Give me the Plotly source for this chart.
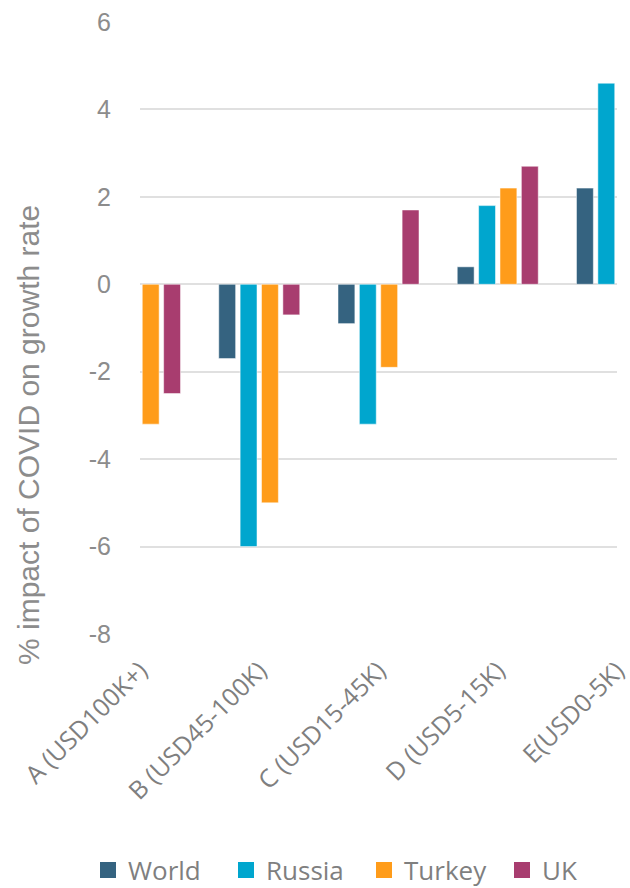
import plotly.graph_objects as go

categories = ["A (USD100K+)", "B (USD45-100K)", "C (USD15-45K)", "D (USD5-15K)", "E(USD0-5K)"]
world = [None, -1.7, -0.9, 0.4, 2.2]
russia = [None, -6.0, -3.2, 1.8, 4.6]
turkey = [-3.2, -5.0, -1.9, 2.2, None]
uk = [-2.5, -0.7, 1.7, 2.7, None]

y_ticks = [-8, -6, -4, -2, 0, 2, 4, 6]
y_tick_text = ["-8", "-6", "-4", "-2", "0", "2", "4", "6"]

series = [
    ("World", world, "#356380"),
    ("Russia", russia, "#00A6CE"),
    ("Turkey", turkey, "#FF9C1A"),
    ("UK", uk, "#A83D6F"),
]

fig = go.Figure()
for name, vals, color in series:
    fig.add_trace(go.Bar(
        x=list(range(len(categories))), y=vals, name=name, showlegend=False,
        legendgroup=name,
        marker=dict(color=color, line=dict(color="rgba(255,255,255,0.5)", width=1)),
    ))
# square legend keys
for name, vals, color in series:
    fig.add_trace(go.Scatter(
        x=[None], y=[None], mode="markers", name=name, legendgroup=name,
        marker=dict(symbol="square", size=18, color=color),
    ))

plot_w = 630 - 140 - 13

fig.update_layout(
    width=630, height=888,
    margin=dict(l=140, r=13, t=22, b=254, autoexpand=False),
    paper_bgcolor="white", plot_bgcolor="white",
    barmode="group", bargap=0.283, bargroupgap=0.21,
    showlegend=True,
    legend=dict(orientation="h", x=-52 / plot_w, xanchor="left",
                y=-(870 - 634) / 612, yanchor="middle",
                font=dict(family="Open Sans", size=26, color="#7F7F7F"),
                itemwidth=30, entrywidth=93, traceorder="normal"),
    xaxis=dict(
        range=[-0.0001, 4.0001], tickmode="array", tickvals=list(range(len(categories))),
        ticktext=categories, tickangle=-45, showgrid=False, zeroline=False,
        showline=False, ticks="", automargin=False, ticklabelstandoff=16,
        ticklabeloverflow="allow",
        tickfont=dict(family="Open Sans", size=25, color="#7F7F7F"),
    ),
    yaxis=dict(
        range=[-8, 6], tickmode="array", tickvals=y_ticks, ticktext=y_tick_text,
        showgrid=True, gridcolor="#E0E0E0", gridwidth=1.5,
        zeroline=True, zerolinecolor="#E0E0E0", zerolinewidth=1.5,
        tickfont=dict(family="Liberation Sans", size=25, color="#8C8C8C"),
        ticklabelstandoff=28, automargin=False,
    ),
    annotations=[dict(
        text="% impact of COVID on growth rate", textangle=-90,
        xref="paper", yref="paper", x=-112 / plot_w, y=(634 - 435) / 612,
        xanchor="center", yanchor="middle", showarrow=False,
        font=dict(family="Liberation Sans", size=30, color="#8C8C8C"),
    )],
)

fig.write_html("out.html")
